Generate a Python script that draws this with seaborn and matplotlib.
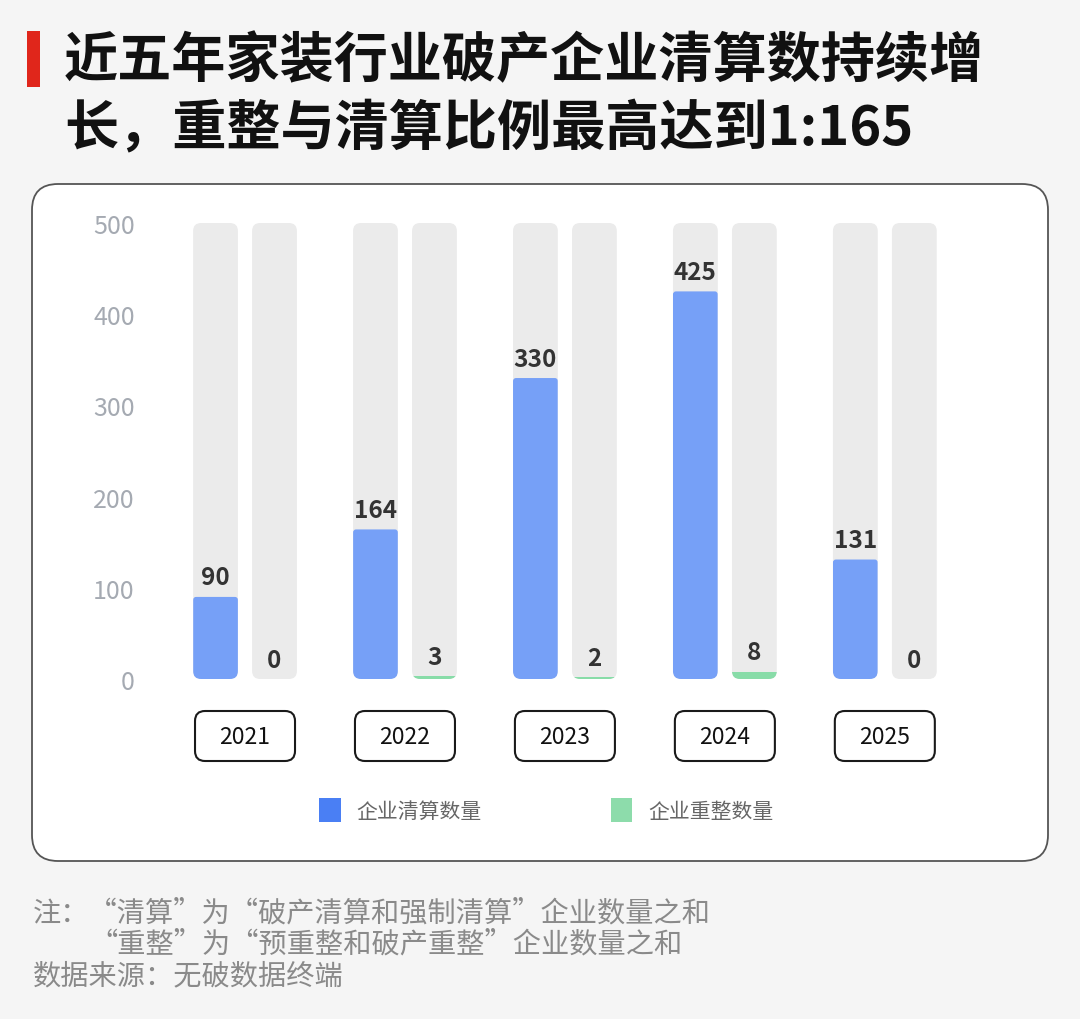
import numpy as np
import pandas as pd
import matplotlib
matplotlib.use('Agg')
import matplotlib.pyplot as plt
import seaborn as sns
from matplotlib.patches import FancyBboxPatch, Patch, Rectangle
from matplotlib.transforms import Affine2D

# ---------------- data ----------------
years = ['2021', '2022', '2023', '2024', '2025']
liquidation = [90, 164, 330, 425, 131]
restructure = [0, 3, 2, 8, 0]
series_names = ['企业清算数量', '企业重整数量']
y_max = 500
y_ticks = [0, 100, 200, 300, 400, 500]
title_lines = ['近五年家装行业破产企业清算数持续增', '长，重整与清算比例最高达到1:165']
notes = ['注：“清算”为“破产清算和强制清算”企业数量之和',
         '“重整”为“预重整和破产重整”企业数量之和',
         '数据来源：无破数据终端']

BLUE_BAR = '#76a0f7'
GREEN_BAR = '#88dca8'
BLUE_LEG = '#4a7ff4'
GREEN_LEG = '#8ddcab'
BG_BAR = '#ebebeb'

sns.set_theme(style='white')
plt.rcParams['font.family'] = ['Noto Sans CJK SC', 'DejaVu Sans']

W, H = 1080, 1020
fig = plt.figure(figsize=(W / 100, H / 100), dpi=100, facecolor='#f5f5f5')
PX = Affine2D().scale(1 / W, -1 / H).translate(0, 1) + fig.transFigure

# panel
fig.patches.append(FancyBboxPatch((32, 185), 1016, 677,
                                  boxstyle='round,pad=0,rounding_size=26',
                                  transform=PX, fc='white', ec='#555555', lw=1.3, zorder=-5))
# red title marker
fig.patches.append(Rectangle((27, 32), 13, 56, transform=PX, fc='#e0261b', ec='none'))
fig.text(64, 62, title_lines[0], transform=PX, fontsize=39, weight='heavy', color='#111111', va='center')
fig.text(64, 130, title_lines[1], transform=PX, fontsize=39, weight='heavy', color='#111111', va='center')

# axes
ax_l, ax_r, ax_top, ax_bot = 150, 1000, 224, 680
ax = fig.add_axes([ax_l / W, (H - ax_bot) / H, (ax_r - ax_l) / W, (ax_bot - ax_top) / H])
ax.set_facecolor('none')
ax.set_zorder(1)

df = pd.DataFrame({'year': years * 2,
                   'series': [series_names[0]] * len(years) + [series_names[1]] * len(years),
                   'value': liquidation + restructure})
df_bg = df.assign(value=y_max)

bar_kw = dict(x='year', y='value', hue='series', width=0.7375, gap=0.24,
              dodge=True, legend=False, ax=ax, linewidth=0, errorbar=None,
              saturation=1)

sns.barplot(data=df_bg, palette=[BG_BAR, BG_BAR], **bar_kw)
n_bg = len(ax.patches)
sns.barplot(data=df, palette=[BLUE_BAR, GREEN_BAR], **bar_kw)

xmin, xmax = -0.594, 4.72
ax.set_xlim(xmin, xmax)
ax.set_ylim(0, y_max)

px_per_x = (ax_r - ax_l) / (xmax - xmin)
px_per_y = (ax_bot - ax_top) / y_max
aspect = px_per_x / px_per_y

patches = list(ax.patches)
bg_patches = patches[:n_bg]
val_patches = patches[n_bg:]

bg_map = {}
for p in bg_patches:
    x, w = p.get_x(), p.get_width()
    rp = FancyBboxPatch((x, 0), w, p.get_height(),
                        boxstyle=f'round,pad=0,rounding_size={8 / px_per_x}',
                        mutation_aspect=aspect, fc=BG_BAR, ec='none', zorder=1)
    p.remove()
    ax.add_patch(rp)
    bg_map[round(x + w / 2, 3)] = rp

vals_all = liquidation + restructure
for p, v in zip(val_patches, vals_all):
    x, w, h = p.get_x(), p.get_width(), p.get_height()
    fc = p.get_facecolor()
    p.remove()
    key = round(x + w / 2, 3)
    if h * px_per_y > 8:
        vp = FancyBboxPatch((x, 0), w, h,
                            boxstyle=f'round,pad=0,rounding_size={3 / px_per_x}',
                            mutation_aspect=aspect, fc=fc, ec='none', zorder=2)
    else:
        vp = Rectangle((x, 0), w, h, fc=fc, ec='none', zorder=2)
    ax.add_patch(vp)
    vp.set_clip_path(bg_map[key])
    ax.annotate(str(v), xy=(x + w / 2, v), xytext=(0, 9), textcoords='offset points',
                ha='center', va='baseline', fontsize=17.5, weight='bold', color='#333333',
                zorder=3)

ax.set_yticks(y_ticks)
ax.set_yticklabels([str(t) for t in y_ticks])
ax.tick_params(axis='y', length=0, pad=11, labelsize=18, labelcolor='#a5aab2')
ax.tick_params(axis='x', length=0, labelbottom=False)
ax.set_xlabel('')
ax.set_ylabel('')
sns.despine(ax=ax, left=True, bottom=True)
ax.grid(False)

# year boxes
for xt, yr in zip(ax.get_xticks(), years):
    xc = ax.transData.transform((xt, 0))[0]
    fig.patches.append(FancyBboxPatch((xc - 50, 712), 100, 50,
                                      boxstyle='round,pad=0,rounding_size=10',
                                      transform=PX, fc='white', ec='#1a1a1a', lw=1.5))
    fig.text(xc, 738, yr, transform=PX, fontsize=16.5, color='#111111', ha='center', va='center')

# legend
fig.legend(handles=[Patch(fc=BLUE_LEG, ec='none'), Patch(fc=GREEN_LEG, ec='none')],
           labels=series_names, ncol=2, loc='center', bbox_to_anchor=(546, 811),
           bbox_transform=PX, frameon=False, fontsize=15, labelcolor='#666666',
           handlelength=1.05, handleheight=1.35, handletextpad=0.75, columnspacing=6.2)

# notes
fig.text(33, 913, notes[0], transform=PX, fontsize=20.3, color='#8a8a8a', va='center')
fig.text(89, 944, notes[1], transform=PX, fontsize=20.3, color='#8a8a8a', va='center')
fig.text(33, 976, notes[2], transform=PX, fontsize=20.3, color='#8a8a8a', va='center')

fig.savefig('out.png', dpi=100, facecolor=fig.get_facecolor())
